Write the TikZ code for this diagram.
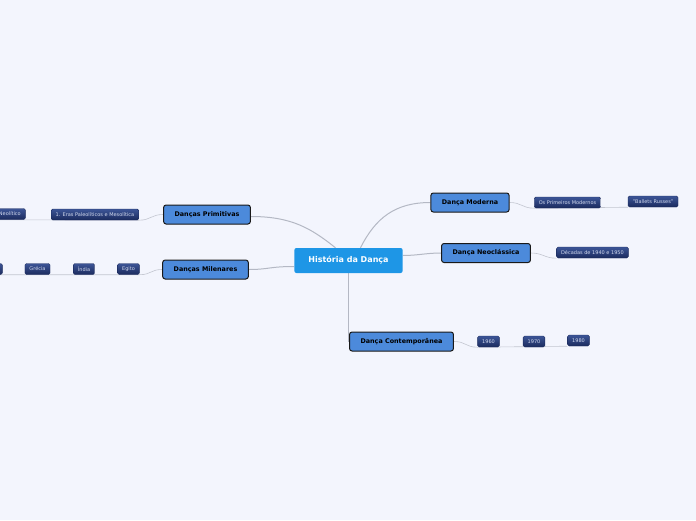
\documentclass[tikz,border=0pt]{standalone}
\usepackage{fontspec}
\setmainfont{DejaVu Sans}
\usepackage{xcolor}
\usepackage{tikz}
\usetikzlibrary{backgrounds}

\definecolor{fondo}{HTML}{F3F5FD}
\definecolor{raiz}{HTML}{1E96E6}
\definecolor{rama}{HTML}{4C8ADB}
\definecolor{hojaA}{HTML}{3C5597}
\definecolor{hojaB}{HTML}{1B2B5E}
\definecolor{textohoja}{HTML}{D2D9EE}
\definecolor{enlace}{HTML}{B4B8C4}

\begin{document}
\begin{tikzpicture}[x=1pt, y=-1pt,
    raizbox/.style={fill=raiz, text=white, rounded corners=2pt, minimum height=25pt,
      inner xsep=14pt, font=\fontsize{8}{9}\selectfont\bfseries},
    ramabox/.style={fill=rama, draw=black!90, line width=1pt, rounded corners=2.5pt,
      minimum height=19pt, inner xsep=11pt, font=\fontsize{6.4}{7}\selectfont\bfseries},
    hojabox/.style={top color=hojaA, bottom color=hojaB, draw=hojaB, rounded corners=1.5pt,
      text=textohoja, minimum height=11pt, inner xsep=4.5pt, inner ysep=0pt,
      font=\fontsize{5}{6}\selectfont},
    enlace/.style={draw=enlace, line width=1pt},
    enlacehoja/.style={draw=enlace!80, line width=0.6pt}]
  \useasboundingbox (0,0) rectangle (696,520);
  \clip (0,0) rectangle (696,520);

  % Nodo central
  \node[raizbox] (historia) at (348.5,260.5) {História da Dança};

  % Ramas
  \node[ramabox] (primitivas) at (207,214.5) {Danças Primitivas};
  \node[ramabox] (milenares) at (205.5,269.5) {Danças Milenares};
  \node[ramabox] (moderna) at (470,202.5) {Dança Moderna};
  \node[ramabox] (neoclasica) at (486,253) {Dança Neoclássica};
  \node[ramabox] (contemp) at (401.5,341.5) {Dança Contemporânea};

  % Hojas de Danças Primitivas
  \node[hojabox] (eras) at (95,214.5) {1. Eras Paleolíticos e Mesolítica};
  \node[hojabox, anchor=east] (neolitico) at (25.5,214) {Neolítico};

  % Hojas de Danças Milenares
  \node[hojabox] (egito) at (128.5,269) {Egito};
  \node[hojabox] (india) at (84,269) {Índia};
  \node[hojabox] (grecia) at (37.5,269) {Grécia};
  \node[hojabox, anchor=east, minimum width=20pt] (roma) at (2.5,269) {};

  % Hojas de Dança Moderna y Neoclássica
  \node[hojabox] (osprimeiros) at (567.5,202.5) {Os Primeiros Modernos};
  \node[hojabox] (ballets) at (653,201.5) {"Ballets Russes"};
  \node[hojabox] (decadas) at (592.5,252.5) {Décadas de 1940 e 1950};

  % Hojas de Dança Contemporânea
  \node[hojabox] (a1960) at (488.5,341.5) {1960};
  \node[hojabox] (a1970) at (534,341.5) {1970};
  \node[hojabox] (a1980) at (578.5,340.5) {1980};

  \begin{pgfonlayer}{background}
    % Fondo
    \fill[fondo] (0,0) rectangle (696,520);

    % Conectores principales
    \draw[enlace] ([xshift=-13pt]historia.north) .. controls +(-25,-20) and +(40,0) .. ([yshift=-2pt]primitivas.east);
    \draw[enlace] ([yshift=-6pt]historia.west) .. controls +(-25,0) and +(20,0) .. (milenares.east);
    \draw[enlace] ([xshift=12pt]historia.north) .. controls +(15,-30) and +(-35,0) .. (moderna.west);
    \draw[enlace] ([yshift=5pt]historia.east) .. controls +(15,0) and +(-15,0) .. (neoclasica.west);
    \draw[enlace] (historia.south) |- (contemp.west);

    % Conectores de hojas
    \draw[enlacehoja] (primitivas.west) .. controls +(-12,0) and +(12,0) .. (eras.south east) -- (neolitico.south west);
    \draw[enlacehoja] (milenares.west) .. controls +(-12,0) and +(12,0) .. (egito.south east) -- (roma.south west);
    \draw[enlacehoja] (moderna.east) .. controls +(12,0) and +(-12,0) .. (osprimeiros.south west) -- (ballets.south west);
    \draw[enlacehoja] (neoclasica.east) .. controls +(12,0) and +(-12,0) .. (decadas.south west);
    \draw[enlacehoja] (contemp.east) .. controls +(12,0) and +(-12,0) .. (a1960.south west) -- (a1980.south west);
  \end{pgfonlayer}
\end{tikzpicture}
\end{document}
